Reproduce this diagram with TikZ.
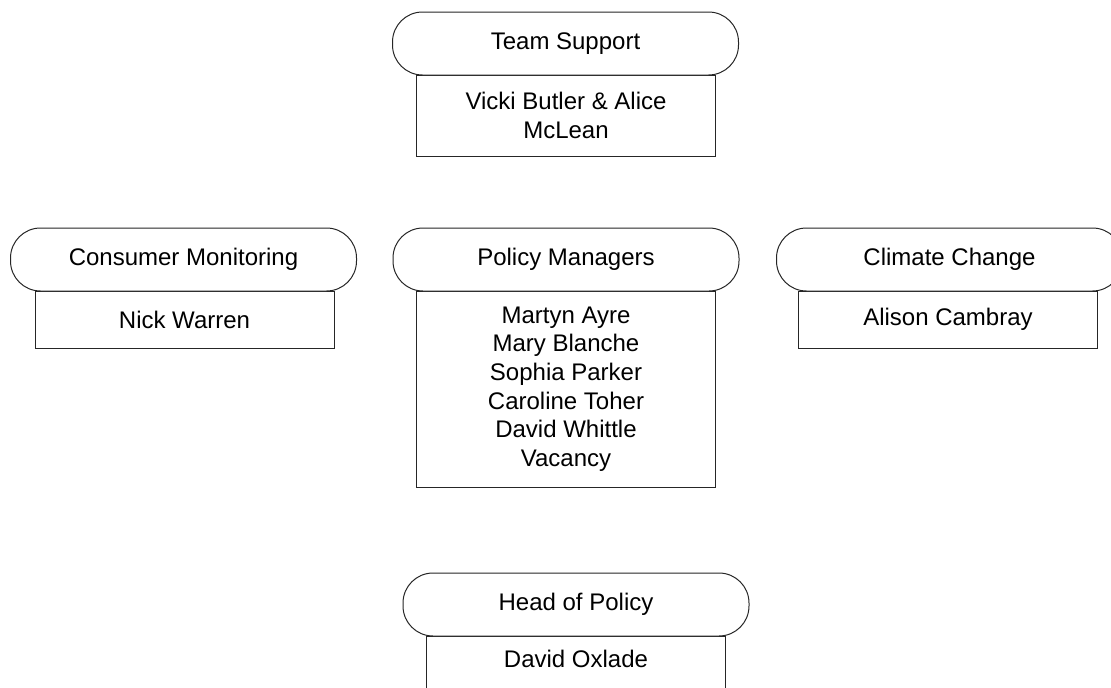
\documentclass[tikz,border=0pt]{standalone}
\usepackage{fontspec}
\setmainfont{Liberation Sans}
\begin{document}
\begin{tikzpicture}[x=1pt,y=-1pt,
  every node/.style={inner sep=0pt, outer sep=0pt},
  pill/.style={draw=black!85, line width=1pt, fill=white, rounded corners=30pt,
    minimum width=346pt, minimum height=63pt,
    font=\fontsize{24}{28.6}\selectfont},
  namebox/.style={draw=black!85, line width=1pt, fill=white, minimum width=299pt,
    align=center, font=\fontsize{24}{28.6}\selectfont}]
\useasboundingbox (0,0) rectangle (1111,688);
\clip (0,0) rectangle (1111,688);

% Team Support
\node[namebox, minimum height=81pt] (tsbox) at (566,115.5) {Vicki Butler \& Alice\\McLean};
\node[pill] (ts) at (565.5,43.5) {Team Support};

% Consumer Monitoring
\node[namebox, minimum height=57pt] (cmbox) at (184.5,319.5) {Nick Warren};
\node[pill] (cm) at (183.5,259.5) {Consumer Monitoring};

% Policy Managers
\node[namebox, minimum height=196pt] (pmbox) at (566,389) {Martyn Ayre\\Mary Blanche\\Sophia Parker\\Caroline Toher\\David Whittle\\Vacancy};
\node[pill] (pm) at (566,259.5) {Policy Managers};

% Climate Change
\node[namebox, minimum height=57pt] (ccbox) at (948,319.5) {Alison Cambray};
\node[pill] (cc) at (949.5,259.5) {Climate Change};

% Head of Policy (box runs past the lower edge)
\node[namebox, minimum height=80pt] (hpbox) at (576,676) {\raisebox{35pt}{David Oxlade}};
\node[pill] (hp) at (576,604.5) {Head of Policy};
\end{tikzpicture}
\end{document}
